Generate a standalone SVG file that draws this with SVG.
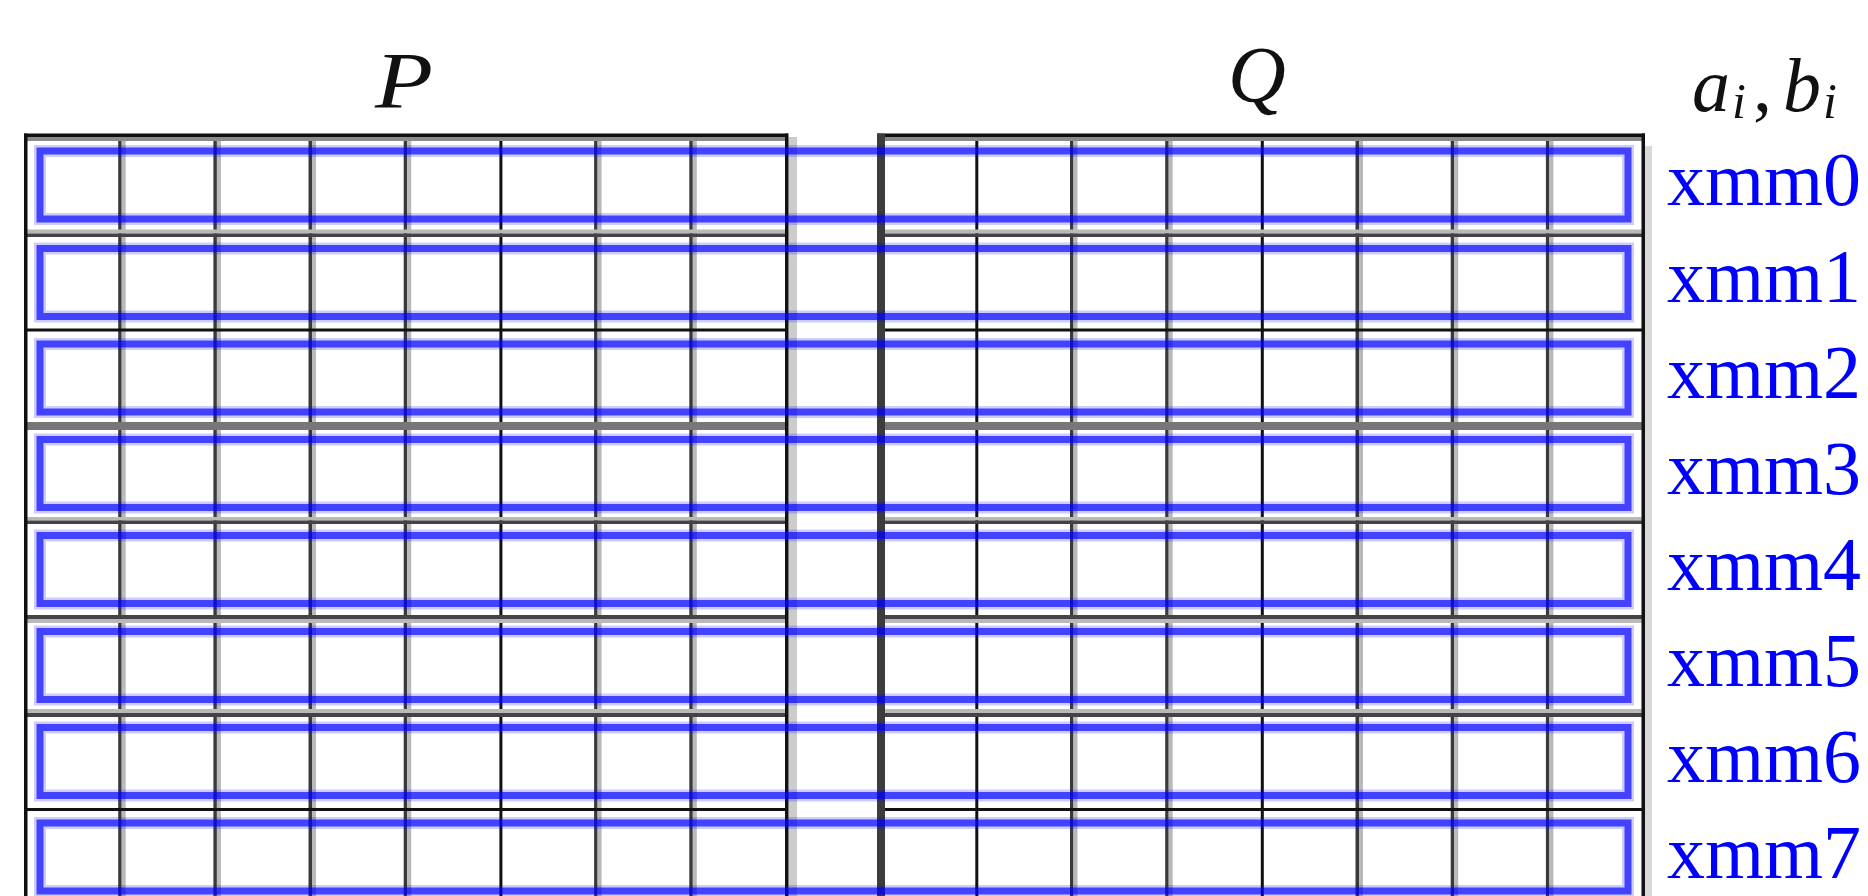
<svg xmlns="http://www.w3.org/2000/svg" width="1868" height="896" viewBox="0 0 1868 896">
<defs>
<style>
.blk{fill:#111}
.drk{fill:#3a3a3a}
.gry{fill:#b9b9b9}
.mid{fill:#8a8a8a}
.halo{fill:none;stroke:#0000ff;stroke-opacity:0.2;stroke-width:12}
.core{fill:none;stroke:#0000ff;stroke-opacity:0.68;stroke-width:7}
.reg{font-family:"Liberation Serif","DejaVu Serif",serif;font-size:76px;fill:#0000ff}
.math{font-family:"Liberation Serif","DejaVu Serif",serif;font-style:italic;font-size:80px;fill:#111}
</style>
</defs>
<rect width="1868" height="896" fill="#fff"/>
<g id="grid">
<rect x="788.5" y="137" width="8.5" height="759" fill="#cccccc"/>
<rect x="1645" y="146" width="7" height="750" fill="#d9d9d9"/>
<rect class="drk" x="118.2" y="134" width="3.5" height="762"/><rect class="gry" x="121.7" y="134" width="4" height="762"/>
<rect class="drk" x="213.4" y="134" width="3.5" height="762"/><rect class="gry" x="216.9" y="134" width="4" height="762"/>
<rect class="drk" x="308.5" y="134" width="3.5" height="762"/><rect class="gry" x="312" y="134" width="4" height="762"/>
<rect class="drk" x="403.7" y="134" width="3.5" height="762"/><rect class="gry" x="407.2" y="134" width="4" height="762"/>
<rect class="blk" x="499.4" y="134" width="3" height="762"/>
<rect class="drk" x="594.1" y="134" width="3.5" height="762"/><rect class="gry" x="597.6" y="134" width="4" height="762"/>
<rect class="drk" x="689.3" y="134" width="3.5" height="762"/><rect class="gry" x="692.8" y="134" width="4" height="762"/>
<rect class="blk" x="975.3" y="134" width="3" height="762"/>
<rect class="drk" x="1070" y="134" width="3.5" height="762"/><rect class="gry" x="1073.5" y="134" width="4" height="762"/>
<rect class="drk" x="1165.2" y="134" width="3.5" height="762"/><rect class="gry" x="1168.7" y="134" width="4" height="762"/>
<rect class="blk" x="1260.8" y="134" width="3" height="762"/>
<rect class="drk" x="1355.5" y="134" width="3.5" height="762"/><rect class="gry" x="1359" y="134" width="4" height="762"/>
<rect class="drk" x="1450.7" y="134" width="3.5" height="762"/><rect class="gry" x="1454.2" y="134" width="4" height="762"/>
<rect class="drk" x="1545.9" y="134" width="3.5" height="762"/><rect class="gry" x="1549.4" y="134" width="4" height="762"/>
<rect class="blk" x="24" y="133.5" width="764" height="3.5"/><rect class="mid" x="27" y="137" width="758" height="4"/>
<rect class="gry" x="27" y="229.5" width="758" height="4"/><rect fill="#444" x="24" y="233.5" width="762" height="3.5"/>
<rect class="blk" x="24" y="328.5" width="762" height="3"/>
<rect fill="#777" x="24" y="422" width="762" height="8"/>
<rect class="gry" x="27" y="517" width="758" height="3.5"/><rect fill="#444" x="24" y="520.5" width="762" height="3.5"/>
<rect fill="#444" x="24" y="615" width="762" height="4"/><rect class="gry" x="27" y="619" width="758" height="4"/>
<rect class="gry" x="27" y="709" width="758" height="4"/><rect fill="#444" x="24" y="713" width="762" height="4"/>
<rect class="blk" x="24" y="808" width="762" height="3"/>
<rect class="blk" x="877" y="133.5" width="768" height="3.5"/><rect class="mid" x="885" y="137" width="757" height="4"/>
<rect class="gry" x="885" y="229.5" width="757" height="4"/><rect fill="#444" x="881" y="233.5" width="762" height="3.5"/>
<rect class="blk" x="881" y="328.5" width="762" height="3"/>
<rect fill="#777" x="881" y="422" width="762" height="8"/>
<rect class="gry" x="885" y="517" width="757" height="3.5"/><rect fill="#444" x="881" y="520.5" width="762" height="3.5"/>
<rect fill="#444" x="881" y="615" width="762" height="4"/><rect class="gry" x="885" y="619" width="757" height="4"/>
<rect class="gry" x="885" y="709" width="757" height="4"/><rect fill="#444" x="881" y="713" width="762" height="4"/>
<rect class="blk" x="881" y="808" width="762" height="3"/>
<rect class="blk" x="24" y="133.5" width="3.5" height="762.5"/>
<rect class="blk" x="785" y="133.5" width="3.5" height="762.5"/>
<rect fill="#3c3c3c" x="877" y="133.5" width="8" height="762.5"/>
<rect class="blk" x="1641.5" y="133.5" width="3.5" height="762.5"/>
</g>
<g id="registers">
<g id="xmm0-box"><rect class="halo" x="40" y="151" width="1588" height="68"/><rect class="core" x="40" y="151" width="1588" height="68"/></g>
<g id="xmm1-box"><rect class="halo" x="40" y="248.5" width="1588" height="68"/><rect class="core" x="40" y="248.5" width="1588" height="68"/></g>
<g id="xmm2-box"><rect class="halo" x="40" y="344" width="1588" height="68"/><rect class="core" x="40" y="344" width="1588" height="68"/></g>
<g id="xmm3-box"><rect class="halo" x="40" y="439.5" width="1588" height="68"/><rect class="core" x="40" y="439.5" width="1588" height="68"/></g>
<g id="xmm4-box"><rect class="halo" x="40" y="535.5" width="1588" height="68"/><rect class="core" x="40" y="535.5" width="1588" height="68"/></g>
<g id="xmm5-box"><rect class="halo" x="40" y="631.5" width="1588" height="68"/><rect class="core" x="40" y="631.5" width="1588" height="68"/></g>
<g id="xmm6-box"><rect class="halo" x="40" y="727.5" width="1588" height="68"/><rect class="core" x="40" y="727.5" width="1588" height="68"/></g>
<g id="xmm7-box"><rect class="halo" x="40" y="823" width="1588" height="68"/><rect class="core" x="40" y="823" width="1588" height="68"/></g>
</g>
<g id="labels">
<text class="reg" x="1667" y="205" textLength="194" lengthAdjust="spacingAndGlyphs">xmm0</text>
<text class="reg" x="1667" y="302" textLength="194" lengthAdjust="spacingAndGlyphs">xmm1</text>
<text class="reg" x="1667" y="398" textLength="194" lengthAdjust="spacingAndGlyphs">xmm2</text>
<text class="reg" x="1667" y="494" textLength="194" lengthAdjust="spacingAndGlyphs">xmm3</text>
<text class="reg" x="1667" y="590" textLength="194" lengthAdjust="spacingAndGlyphs">xmm4</text>
<text class="reg" x="1667" y="686" textLength="194" lengthAdjust="spacingAndGlyphs">xmm5</text>
<text class="reg" x="1667" y="782" textLength="194" lengthAdjust="spacingAndGlyphs">xmm6</text>
<text class="reg" x="1667" y="878" textLength="194" lengthAdjust="spacingAndGlyphs">xmm7</text>
</g>
<g id="titles">
<text class="math" x="375" y="108" textLength="58" lengthAdjust="spacingAndGlyphs">P</text>
<text class="math" x="1228" y="102">Q</text>
<text class="math" style="font-size:76px"><tspan x="1692" y="111">a</tspan><tspan x="1732" y="118" style="font-size:50px">i</tspan><tspan x="1753" y="111" style="font-style:normal">,</tspan><tspan x="1783" y="111">b</tspan><tspan x="1823" y="118" style="font-size:50px">i</tspan></text>
</g>
</svg>
